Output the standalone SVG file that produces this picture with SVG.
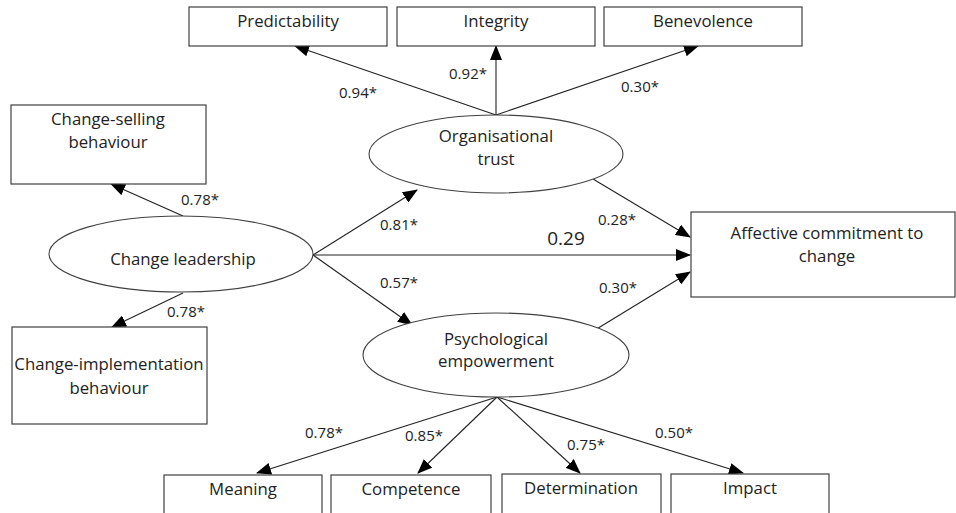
<svg xmlns="http://www.w3.org/2000/svg" width="956" height="513" viewBox="0 0 956 513">
<style>
.box{fill:#fff;stroke:#404040;stroke-width:1.2}
.ell{fill:#fff;stroke:#404040;stroke-width:1.1}
.t{font-family:"Open Sans","Liberation Sans",sans-serif;font-size:16.8px;fill:#222;text-anchor:middle}
.l{font-family:"Open Sans","Liberation Sans",sans-serif;font-size:15px;fill:#222;text-anchor:middle}
.big{font-size:19px}
.c{stroke:#222;stroke-width:1.1;fill:none;marker-end:url(#ah)}
</style>
<defs>
<marker id="ah" markerUnits="userSpaceOnUse" markerWidth="15" markerHeight="12" refX="14" refY="6" orient="auto">
<path d="M0,0 L15,6 L0,12 Z" fill="#000"/>
</marker>
</defs>
<rect width="956" height="513" fill="#fff"/>
<g id="connectors">
<line class="c" x1="496" y1="115" x2="295" y2="46"/>
<line class="c" x1="496" y1="115" x2="496" y2="46"/>
<line class="c" x1="496" y1="115" x2="698" y2="46"/>
<line class="c" x1="183" y1="216" x2="111" y2="184"/>
<line class="c" x1="183" y1="293" x2="112" y2="327"/>
<line class="c" x1="313" y1="255" x2="417" y2="190"/>
<line class="c" x1="313" y1="255" x2="412" y2="325"/>
<line class="c" x1="313" y1="255" x2="690" y2="255"/>
<line class="c" x1="593" y1="179" x2="690" y2="237"/>
<line class="c" x1="595" y1="330" x2="690" y2="272"/>
<line class="c" x1="497" y1="397" x2="257" y2="473"/>
<line class="c" x1="497" y1="397" x2="418" y2="473"/>
<line class="c" x1="497" y1="397" x2="580" y2="473"/>
<line class="c" x1="497" y1="397" x2="743" y2="473"/>
</g>
<g id="labels">
<text class="l" x="358" y="98">0.94*</text>
<text class="l" x="468" y="79">0.92*</text>
<text class="l" x="640" y="92">0.30*</text>
<text class="l" x="200" y="205">0.78*</text>
<text class="l" x="186" y="317">0.78*</text>
<text class="l" x="399" y="230">0.81*</text>
<text class="l" x="399" y="288">0.57*</text>
<text class="l big" x="566" y="245">0.29</text>
<text class="l" x="617" y="225">0.28*</text>
<text class="l" x="618" y="293">0.30*</text>
<text class="l" x="324" y="438">0.78*</text>
<text class="l" x="424" y="441">0.85*</text>
<text class="l" x="586" y="450">0.75*</text>
<text class="l" x="674" y="438">0.50*</text>
</g>
<g id="predictability"><rect class="box" x="189" y="7" width="198" height="39"/><text class="t" x="288" y="27">Predictability</text></g>
<g id="integrity"><rect class="box" x="397" y="7" width="198" height="39"/><text class="t" x="496" y="27">Integrity</text></g>
<g id="benevolence"><rect class="box" x="604" y="7" width="198" height="39"/><text class="t" x="703" y="27">Benevolence</text></g>
<g id="change-selling"><rect class="box" x="11" y="105" width="195" height="79"/><text class="t" x="108" y="125">Change-selling</text><text class="t" x="108" y="148">behaviour</text></g>
<g id="change-implementation"><rect class="box" x="12" y="327" width="195" height="97"/><text class="t" x="109" y="370">Change-implementation</text><text class="t" x="109" y="394">behaviour</text></g>
<g id="organisational-trust"><ellipse class="ell" cx="496" cy="154" rx="127" ry="39"/><text class="t" x="496" y="142">Organisational</text><text class="t" x="496" y="165">trust</text></g>
<g id="change-leadership"><ellipse class="ell" cx="181" cy="254" rx="132" ry="38"/><text class="t" x="183" y="265">Change leadership</text></g>
<g id="psychological-empowerment"><ellipse class="ell" cx="496" cy="355" rx="133" ry="42"/><text class="t" x="496" y="345">Psychological</text><text class="t" x="496" y="367">empowerment</text></g>
<g id="affective-commitment"><rect class="box" x="691" y="212" width="264" height="85"/><text class="t" x="827" y="239">Affective commitment to</text><text class="t" x="827" y="262">change</text></g>
<g id="meaning"><rect class="box" x="164" y="475" width="158" height="60"/><text class="t" x="243" y="495">Meaning</text></g>
<g id="competence"><rect class="box" x="331" y="475" width="160" height="60"/><text class="t" x="411" y="495">Competence</text></g>
<g id="determination"><rect class="box" x="502" y="474" width="159" height="60"/><text class="t" x="581" y="494">Determination</text></g>
<g id="impact"><rect class="box" x="671" y="474" width="158" height="60"/><text class="t" x="750" y="494">Impact</text></g>
</svg>
